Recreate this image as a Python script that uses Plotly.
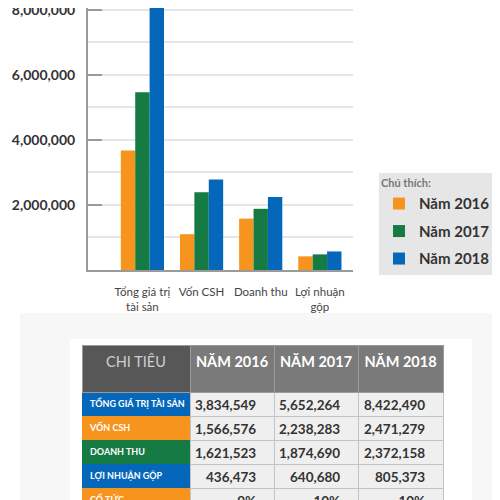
import plotly.graph_objects as go

categories = ["Tổng giá trị<br>tài sản", "Vốn CSH", "Doanh thu", "Lợi nhuận<br>gộp"]
years = ["Năm 2016", "Năm 2017", "Năm 2018"]
bar_2016 = [3670000, 1100000, 1580000, 420000]
bar_2017 = [5460000, 2390000, 1880000, 480000]
bar_2018 = [8420000, 2780000, 2240000, 570000]
colors = ["#f7941d", "#167a44", "#0567b9"]
y_ticks = [2000000, 4000000, 6000000, 8000000]

table_header = ["CHI TIÊU", "NĂM 2016", "NĂM 2017", "NĂM 2018"]
row_labels = ["TỔNG GIÁ TRỊ TÀI SẢN", "VỐN CSH", "DOANH THU", "LỢI NHUẬN GỘP", "CỔ TỨC"]
row_colors = ["#0567b9", "#f7941d", "#167a44", "#0567b9", "#f7941d"]
col_2016 = ["3,834,549", "1,566,576", "1,621,523", "436,473", "9%"]
col_2017 = ["5,652,264", "2,238,283", "1,874,690", "640,680", "10%"]
col_2018 = ["8,422,490", "2,471,279", "2,372,158", "805,373", "10%"]

FONT = "Lato"
NB = "\u00a0"
W, H = 492, 492  # page body keeps an 8px margin

fig = go.Figure()
for name, vals, c in zip(years, [bar_2016, bar_2017, bar_2018], colors):
    fig.add_trace(go.Bar(x=categories, y=vals, name=name, legendgroup=name,
                         marker=dict(color=c, line=dict(width=0))))

pad = NB * 3
header_vals = ["<br><span style='font-size:14.5px;color:#cfcfcf'>" + table_header[0] + "</span>"] + \
              ["<br><span style='font-size:14.5px'><b>" + h.replace(" ", NB) + "</b></span>" for h in table_header[1:]]
fig.add_trace(go.Table(
    domain=dict(x=[74 / W, 435 / W], y=[0, 1 - 337 / H]),
    columnwidth=[108, 84, 84, 85],
    header=dict(
        values=header_vals,
        fill_color=["#575757", "#7a7a7a", "#7a7a7a", "#7a7a7a"],
        font=dict(family=FONT, size=13, color="white"),
        align="center", height=47,
        line=dict(color="#9a9a9a", width=1),
    ),
    cells=dict(
        values=[[r.replace(" ", NB) for r in row_labels],
                [v + pad for v in col_2016],
                [v + pad for v in col_2017],
                [v + pad for v in col_2018]],
        fill_color=[row_colors, ["#efefef"] * 5, ["#efefef"] * 5, ["#efefef"] * 5],
        font=dict(family=FONT, size=[9, 13.5, 13.5, 13.5], weight="bold",
                  color=["white", "#333333", "#333333", "#333333"]),
        align=["left", "right", "right", "right"],
        height=24,
        line=dict(color=["rgba(0,0,0,0)", "#c4c4c4", "#c4c4c4", "#c4c4c4"], width=1),
    ),
))

fig.update_layout(
    width=W, height=H,
    margin=dict(l=0, r=0, t=0, b=0, autoexpand=False),
    paper_bgcolor="white", plot_bgcolor="white",
    barmode="group", bargap=0.27, bargroupgap=0,
    font=dict(family=FONT, color="#333333"),
    xaxis=dict(domain=[80 / W, 345 / W], range=[-0.92, 3.56],
               showline=True, linecolor="#9a9a9a", linewidth=2,
               ticks="outside", ticklen=10, tickcolor="rgba(0,0,0,0)",
               tickfont=dict(family=FONT, size=11.5, color="#444444"),
               showgrid=False, zeroline=False, automargin=False),
    yaxis=dict(domain=[1 - 262 / H, 1.0], range=[0, 8050000],
               showline=True, linecolor="#9a9a9a", linewidth=2,
               tickvals=y_ticks, tickformat=",d",
               ticks="inside", ticklen=14, tickcolor="#9a9a9a", tickwidth=1.5,
               ticklabelstandoff=8, ticklabeloverflow="allow",
               tickfont=dict(family=FONT, size=14, color="#333333", weight="bold"),
               showgrid=True, gridcolor="#e6e6e6", gridwidth=1.5,
               minor=dict(dtick=1000000, showgrid=True, gridcolor="#e6e6e6", gridwidth=1.5),
               zeroline=False, automargin=False),
    legend=dict(x=371 / W, y=1 - 165 / H, xanchor="left", yanchor="top",
                bgcolor="#e6e6e6", borderwidth=0, traceorder="grouped",
                title=dict(text="Chú thích:", font=dict(family=FONT, size=11, color="#777777")),
                font=dict(family=FONT, size=15, color="#333333", weight="bold"),
                tracegroupgap=5, itemwidth=30),
    shapes=[
        dict(type="rect", xref="paper", yref="paper", x0=12 / W, x1=1.0, y0=0, y1=1 - 305 / H,
             fillcolor="#f7f7f7", line=dict(width=0), layer="below"),
        dict(type="rect", xref="paper", yref="paper", x0=62 / W, x1=464 / W, y0=0, y1=1 - 331 / H,
             fillcolor="#ffffff", line=dict(width=0), layer="below"),
    ],
)

fig.write_html("out.html")
